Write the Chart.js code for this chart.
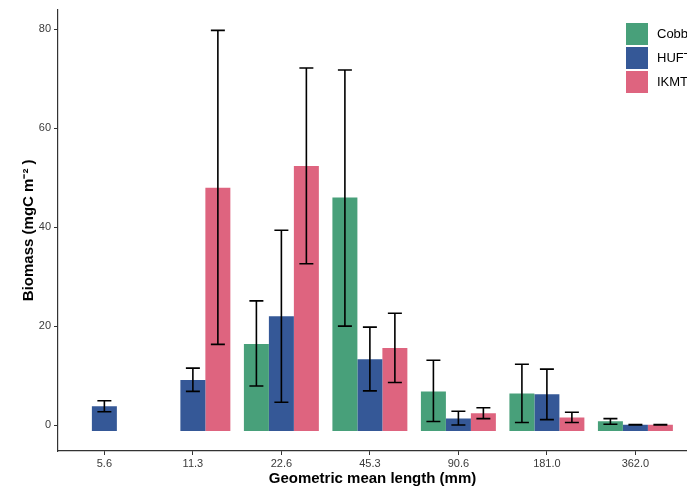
<!DOCTYPE html>
<html>
<head>
<meta charset="utf-8">
<script src="https://cdn.jsdelivr.net/npm/chart.js@4.4.1/dist/chart.umd.min.js"></script>
<style>
  html, body { margin: 0; padding: 0; background: #ffffff; }
  #wrap { width: 687px; height: 488px; position: relative; }
</style>
</head>
<body>
<div id="wrap"><canvas id="c" width="687" height="488"></canvas></div>
<script>
// ---- data ----
const categories = ['5.6', '11.3', '22.6', '45.3', '90.6', '181.0', '362.0'];
const seriesNames = ['Cobb', 'HUFT', 'IKMT'];
const cobb   = [null, null, 16.4, 46.0, 6.8, 6.4, 0.75];
const huft   = [3.8, 9.1, 22.0, 13.3, 1.3, 6.2, 0.05];
const ikmt   = [null, 48.0, 52.4, 15.6, 2.4, 1.5, 0.05];
const cobbLo = [null, null, 7.9, 20.0, 0.7, 0.5, 0.15];
const cobbHi = [null, null, 25.1, 71.8, 13.1, 12.3, 1.3];
const huftLo = [2.7, 6.8, 4.6, 6.9, 0.0, 1.1, 0.0];
const huftHi = [4.9, 11.5, 39.4, 19.8, 2.8, 11.3, 0.1];
const ikmtLo = [null, 16.3, 32.6, 8.6, 1.3, 0.5, 0.0];
const ikmtHi = [null, 79.8, 72.2, 22.6, 3.5, 2.6, 0.1];
const yTicks = [0, 20, 40, 60, 80];
const barBase = -1.2;

const colors = ['#48A07A', '#355897', '#DE647F'];
const values = [cobb, huft, ikmt];
const lows = [cobbLo, huftLo, ikmtLo];
const highs = [cobbHi, huftHi, ikmtHi];

const FONT = '"Liberation Sans", Arial, Helvetica, sans-serif';

const errorBars = {
  id: 'errorBars',
  afterDatasetsDraw(chart) {
    const ctx = chart.ctx;
    const y = chart.scales.y;
    ctx.save();
    ctx.strokeStyle = '#000000';
    ctx.lineWidth = 1.6;
    chart.data.datasets.forEach((ds, di) => {
      const meta = chart.getDatasetMeta(di);
      meta.data.forEach((el, i) => {
        const lo = lows[di][i], hi = highs[di][i];
        if (lo == null || hi == null) return;
        const x = el.x;
        const yl = y.getPixelForValue(lo), yh = y.getPixelForValue(hi);
        const hw = 7;
        ctx.beginPath();
        ctx.moveTo(x, yl); ctx.lineTo(x, yh);
        ctx.moveTo(x - hw, yl); ctx.lineTo(x + hw, yl);
        ctx.moveTo(x - hw, yh); ctx.lineTo(x + hw, yh);
        ctx.stroke();
      });
    });
    ctx.restore();
  }
};

const customLegend = {
  id: 'customLegend',
  afterDraw(chart) {
    const ctx = chart.ctx;
    ctx.save();
    chart.data.datasets.forEach((ds, i) => {
      const top = 23 + i * 24;
      ctx.fillStyle = ds.backgroundColor;
      ctx.fillRect(626, top, 22, 22);
      ctx.fillStyle = '#000000';
      ctx.font = '13px ' + FONT;
      ctx.textBaseline = 'middle';
      ctx.textAlign = 'left';
      ctx.fillText(ds.label, 657, top + 11);
    });
    ctx.restore();
  }
};

new Chart(document.getElementById('c'), {
  type: 'bar',
  data: {
    datasets: seriesNames.map((name, i) => ({
      label: name,
      data: values[i].map((v, k) => ({ x: k, y: v })),
      backgroundColor: colors[i],
      borderWidth: 0,
      base: barBase
    }))
  },
  options: {
    responsive: false,
    animation: false,
    devicePixelRatio: 1,
    layout: { padding: { top: 8, right: 0, left: 0, bottom: 0 } },
    categoryPercentage: 0.847,
    barPercentage: 1.0,
    plugins: {
      legend: { display: false },
      tooltip: { enabled: false }
    },
    scales: {
      x: {
        type: 'linear',
        offset: false,
        min: -0.524,
        max: 6.583,
        afterBuildTicks(scale) { scale.ticks = categories.map((c, k) => ({ value: k })); },
        grid: { display: true, offset: false, drawOnChartArea: false, drawTicks: true, tickLength: 4, tickColor: '#333333' },
        border: { display: true, color: '#333333', width: 1.2 },
        ticks: { color: '#3a3a3a', font: { family: FONT, size: 11 }, padding: 2, maxRotation: 0,
                 autoSkip: false, callback: (v) => categories[v] },
        title: { display: true, text: 'Geometric mean length (mm)', color: '#000000',
                 font: { family: FONT, size: 15, weight: 'bold' }, padding: { top: 2, bottom: 0 } },
        afterFit(scale) { scale.height = 37; }
      },
      y: {
        min: -5.25,
        max: 84,
        afterBuildTicks(scale) { scale.ticks = yTicks.map(v => ({ value: v })); },
        grid: { display: true, drawOnChartArea: false, drawTicks: true, tickLength: 4, tickColor: '#333333' },
        border: { display: true, color: '#333333', width: 1.2 },
        ticks: { color: '#3a3a3a', font: { family: FONT, size: 11 }, padding: 3 },
        title: { display: true, text: 'Biomass (mgC m\u207B\u00B2 )', color: '#000000',
                 font: { family: FONT, size: 15, weight: 'bold' }, padding: { top: 20, bottom: 2 } },
        afterFit(scale) { scale.width = 58; }
      }
    }
  },
  plugins: [errorBars, customLegend]
});
</script>
</body>
</html>
